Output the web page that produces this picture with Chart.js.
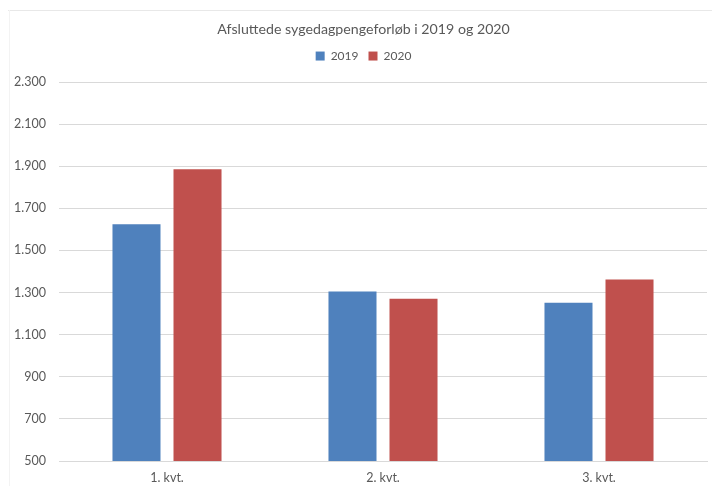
<!DOCTYPE html>
<html>
<head>
<meta charset="utf-8">
<script src="https://cdn.jsdelivr.net/npm/chart.js@4"></script>
<style>
html,body{margin:0;padding:0;background:#fff;}
#wrap{width:712px;height:486px;position:relative;}
</style>
</head>
<body>
<div id="wrap"><canvas id="c" width="712" height="486"></canvas></div>
<script>
const categories = ["1. kvt.", "2. kvt.", "3. kvt."];
const values2019 = [1624, 1305, 1252];
const values2020 = [1886, 1271, 1362];
const seriesLabels = ["2019", "2020"];
const titleText = "Afsluttede sygedagpengeforløb i 2019 og 2020";

const fontFamily = "Lato, 'Open Sans', sans-serif";
const textColor = "#595959";

const legendMargin = {
  id: 'legendMargin',
  beforeInit(chart) {
    const orig = chart.legend.fit;
    chart.legend.fit = function () {
      orig.bind(chart.legend)();
      this.height += 10;
    };
  }
};

const frameBorder = {
  id: 'frameBorder',
  beforeDraw(chart) {
    const ctx = chart.ctx;
    ctx.save();
    ctx.strokeStyle = '#e8e8e8';
    ctx.lineWidth = 1;
    ctx.beginPath();
    ctx.moveTo(8, 10.5); ctx.lineTo(712, 10.5);
    ctx.stroke();
    ctx.strokeStyle = '#f3f3f3';
    ctx.beginPath();
    ctx.moveTo(9.5, 10); ctx.lineTo(9.5, 486);
    ctx.stroke();
    ctx.restore();
  }
};

new Chart(document.getElementById('c'), {
  type: 'bar',
  data: {
    labels: categories,
    datasets: [
      { label: seriesLabels[0], data: values2019, backgroundColor: '#4f81bd', categoryPercentage: 0.565, barPercentage: 0.787 },
      { label: seriesLabels[1], data: values2020, backgroundColor: '#c0504d', categoryPercentage: 0.565, barPercentage: 0.787 }
    ]
  },
  plugins: [legendMargin, frameBorder],
  options: {
    responsive: false,
    animation: false,
    layout: { padding: { left: 20, right: 5, top: 21, bottom: -8 } },
    plugins: {
      title: {
        display: true,
        text: titleText,
        color: textColor,
        font: { family: fontFamily, size: 14.2, weight: 'normal' },
        padding: { top: 0, bottom: 2 }
      },
      legend: {
        display: true,
        labels: {
          color: textColor,
          font: { family: fontFamily, size: 12 },
          boxWidth: 9, boxHeight: 9, padding: 10
        }
      },
      tooltip: { enabled: false }
    },
    scales: {
      x: {
        grid: { display: false, drawTicks: false },
        border: { color: '#d9d9d9' },
        ticks: { color: textColor, font: { family: fontFamily, size: 12.5 }, padding: 9 }
      },
      y: {
        min: 500, max: 2300,
        afterFit(scale) {
          scale.width = 39;
          scale._computeLabelArea = () => undefined;
        },
        grid: { color: '#d9d9d9', drawTicks: false },
        border: { display: false },
        ticks: {
          stepSize: 200,
          color: textColor,
          padding: 13,
          font: { family: fontFamily, size: 12.5 },
          callback: v => v.toLocaleString('da-DK')
        }
      }
    }
  }
});
</script>
</body>
</html>
